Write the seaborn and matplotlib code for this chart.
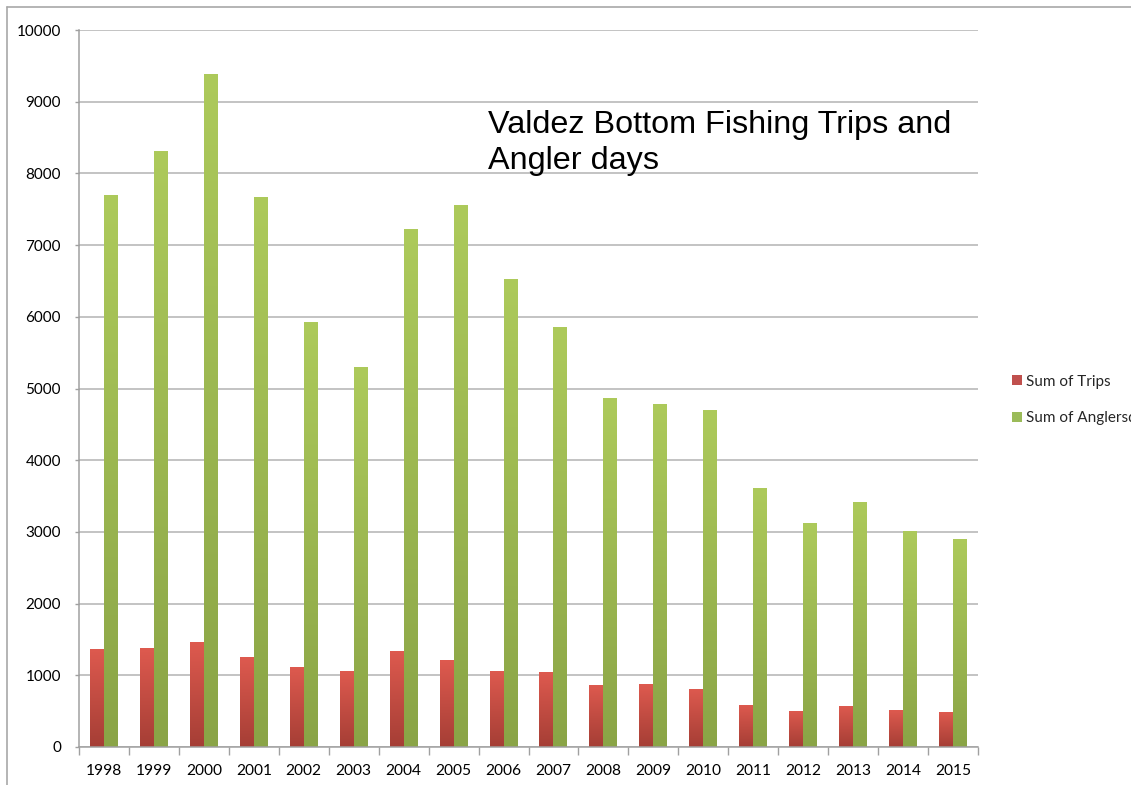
import numpy as np
import pandas as pd
import matplotlib
matplotlib.use("Agg")
import matplotlib.pyplot as plt
from matplotlib.colors import LinearSegmentedColormap
from matplotlib.patches import Patch
from matplotlib.lines import Line2D
import seaborn as sns

years = ["1998", "1999", "2000", "2001", "2002", "2003", "2004", "2005", "2006",
         "2007", "2008", "2009", "2010", "2011", "2012", "2013", "2014", "2015"]
trips = [1371, 1376, 1460, 1255, 1116, 1056, 1343, 1209, 1060,
         1042, 869, 874, 813, 590, 506, 576, 512, 484]
anglers = [7705, 8312, 9391, 7671, 5927, 5300, 7220, 7555, 6527,
           5853, 4863, 4788, 4696, 3608, 3128, 3413, 3008, 2901]
series_names = ["Sum of Trips", "Sum of Anglersdays"]
yticks = [0, 1000, 2000, 3000, 4000, 5000, 6000, 7000, 8000, 9000, 10000]
title_text = "Valdez Bottom Fishing Trips and\nAngler days"

df = pd.DataFrame({
    "year": years * 2,
    "value": trips + anglers,
    "series": [series_names[0]] * len(years) + [series_names[1]] * len(years),
})

sns.set_theme(style="white")
plt.rcParams["font.family"] = ["Lato", "DejaVu Sans"]

base_colors = {series_names[0]: "#C0504D", series_names[1]: "#9BBB59"}
grad = {
    series_names[0]: ("#a53e35", "#de5a4f"),
    series_names[1]: ("#8aa446", "#adca5b"),
}

fig = plt.figure(figsize=(11.31, 7.85), dpi=100)
ax = fig.add_axes([79 / 1131, 1 - 747 / 785, (978 - 79) / 1131, (747 - 30) / 785])

sns.barplot(data=df, x="year", y="value", hue="series", order=years,
            hue_order=series_names, palette=base_colors, width=0.56, gap=0,
            legend=False, ax=ax, linewidth=0, saturation=1)

# gradient fill for each bar
for p in list(ax.patches):
    fc = p.get_facecolor()
    key = series_names[0] if fc[0] > fc[1] else series_names[1]
    cmap = LinearSegmentedColormap.from_list("g", list(grad[key]))
    x0, w, h = p.get_x(), p.get_width(), p.get_height()
    g = np.linspace(0, 1, 256).reshape(-1, 1)
    im = ax.imshow(g, extent=[x0, x0 + w, 0, h], origin="lower", aspect="auto",
                   cmap=cmap, zorder=p.get_zorder() + 0.1)
    im.set_clip_path(p)

ax.set_xlim(-0.5, len(years) - 0.5)
ax.set_ylim(0, 10000)
ax.set_xlabel("")
ax.set_ylabel("")

# y axis
ax.set_yticks(yticks)
ax.set_yticklabels([str(v) for v in yticks])
ax.yaxis.grid(True, color="#b3b3b3", linewidth=1.1)
ax.set_axisbelow(True)
ax.tick_params(axis="y", which="major", left=True, length=3, width=1, color="#a0a0a0",
               pad=10, labelsize=11, labelcolor="black")

# x axis: ticks at boundaries, labels at centers
ax.set_xticks(np.arange(-0.5, len(years), 1.0))
ax.set_xticklabels([])
ax.set_xticks(np.arange(len(years)), minor=True)
ax.set_xticklabels(years, minor=True)
ax.tick_params(axis="x", which="major", bottom=True, length=6, width=1, color="#a0a0a0")
ax.tick_params(axis="x", which="minor", bottom=False, length=0, pad=12,
               labelsize=11.2, labelcolor="black")

for s in ["top", "right"]:
    ax.spines[s].set_visible(False)
for s in ["left", "bottom"]:
    ax.spines[s].set_color("#a0a0a0")
    ax.spines[s].set_linewidth(1.1)

# title inside plot
fig.text(488 / 1131, 1 - 110 / 785, title_text, ha="left", va="top",
         fontsize=23.3, family=["Liberation Sans", "DejaVu Sans"], color="black",
         linespacing=1.25)

# legend
handles = [Patch(facecolor=base_colors[n], edgecolor="none") for n in series_names]
fig.legend(handles, series_names, loc="center left",
           bbox_to_anchor=(1004 / 1131, 1 - 400 / 785), frameon=False,
           handlelength=0.65, handleheight=0.65, handletextpad=0.3,
           labelspacing=1.5, fontsize=11, borderpad=0)

# outer chart border (top and left)
fig.add_artist(Line2D([7 / 1131, 1.0], [1 - 7 / 785, 1 - 7 / 785],
                      transform=fig.transFigure, color="#a8a8a8", linewidth=1.2))
fig.add_artist(Line2D([7 / 1131, 7 / 1131], [0.0, 1 - 7 / 785],
                      transform=fig.transFigure, color="#a8a8a8", linewidth=1.2))

fig.savefig("out.png", dpi=100)
